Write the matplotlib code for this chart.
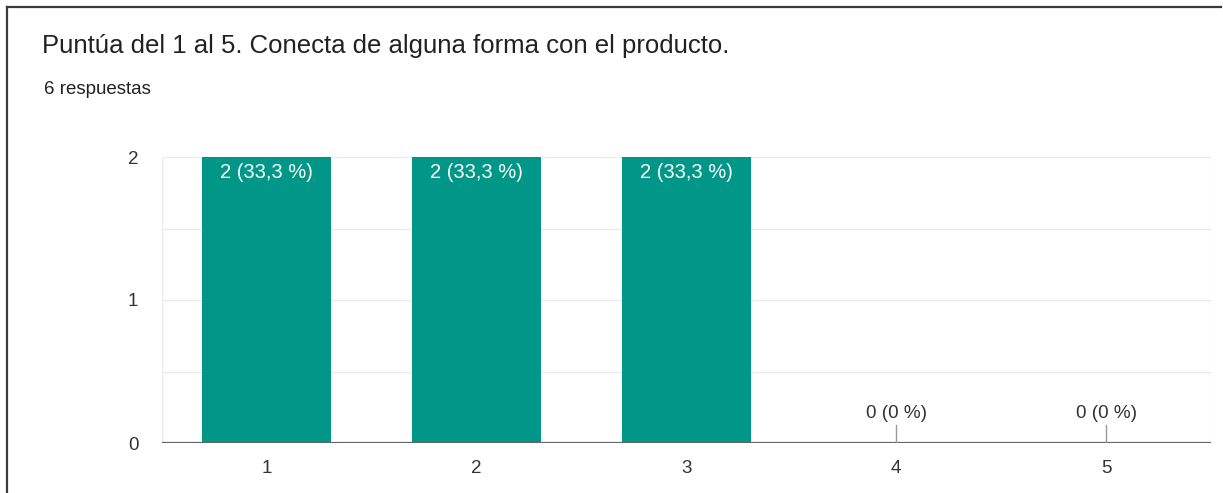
import matplotlib
matplotlib.use("Agg")
import matplotlib.pyplot as plt
from matplotlib.lines import Line2D

plt.rcParams['font.family'] = ['Liberation Sans', 'DejaVu Sans']

categories = ["1", "2", "3", "4", "5"]
counts = [2, 2, 2, 0, 0]
total_responses = 6
title = "Puntúa del 1 al 5. Conecta de alguna forma con el producto."
subtitle = f"{total_responses} respuestas"

W, H = 1223, 493
fig = plt.figure(figsize=(W / 100, H / 100), dpi=100)
fig.patch.set_facecolor("white")

# card border (top and left edges)
fig.add_artist(Line2D([7 / W, 1221 / W], [1 - 7 / H, 1 - 7 / H], color="#3a3a3a", lw=1.6))
fig.add_artist(Line2D([7 / W, 7 / W], [1 - 7 / H, 0], color="#3a3a3a", lw=1.6))

fig.text(42 / W, 1 - 46 / H, title, fontsize=18.5, color="#202124", va="center", ha="left")
fig.text(44 / W, 1 - 90 / H, subtitle, fontsize=13.5, color="#202124", va="center", ha="left")

left, right, top, bottom = 162, 1211, 157, 443
ax = fig.add_axes([left / W, 1 - bottom / H, (right - left) / W, (bottom - top) / H])
x = list(range(1, len(categories) + 1))
bars = ax.bar(x, counts, width=0.615, color="#009688", zorder=3)

ax.set_xlim(0.5, len(categories) + 0.5)
ax.set_ylim(0, 2)
for yv in [0.5, 1, 1.5, 2]:
    ax.axhline(yv, color="#ebebeb", lw=1, zorder=1)
ax.axvline(0.5, color="#ebebeb", lw=1, zorder=1)
ax.axvline(len(categories) + 0.5, color="#ebebeb", lw=1, zorder=1)
ax.axhline(0, color="#666666", lw=1.6, zorder=4)

for s in ax.spines.values():
    s.set_visible(False)
ax.set_xticks(x)
ax.set_xticklabels(categories)
ax.set_yticks([0, 1, 2])
ax.set_yticklabels(["0", "1", "2"])
ax.tick_params(axis="both", length=0, labelsize=13.5, colors="#333333")
ax.tick_params(axis="x", pad=12)
ax.tick_params(axis="y", pad=17)

for xi, c in zip(x, counts):
    pct = 100 * c / total_responses
    pct_txt = f"{pct:.1f}".replace(".", ",") if c else "0"
    label = f"{c} ({pct_txt} %)"
    if c > 0:
        ax.annotate(label, (xi, c), xytext=(0, -11), textcoords="offset points",
                    ha="center", va="center", color="white", fontsize=14.5, zorder=5)
    else:
        ax.plot([xi, xi], [0, 0.125], color="#999999", lw=1, zorder=4)
        ax.annotate(label, (xi, 0), xytext=(0, 21), textcoords="offset points",
                    ha="center", va="center", color="#333333", fontsize=13.6, zorder=5)

fig.savefig("out.png", dpi=100, facecolor="white")
